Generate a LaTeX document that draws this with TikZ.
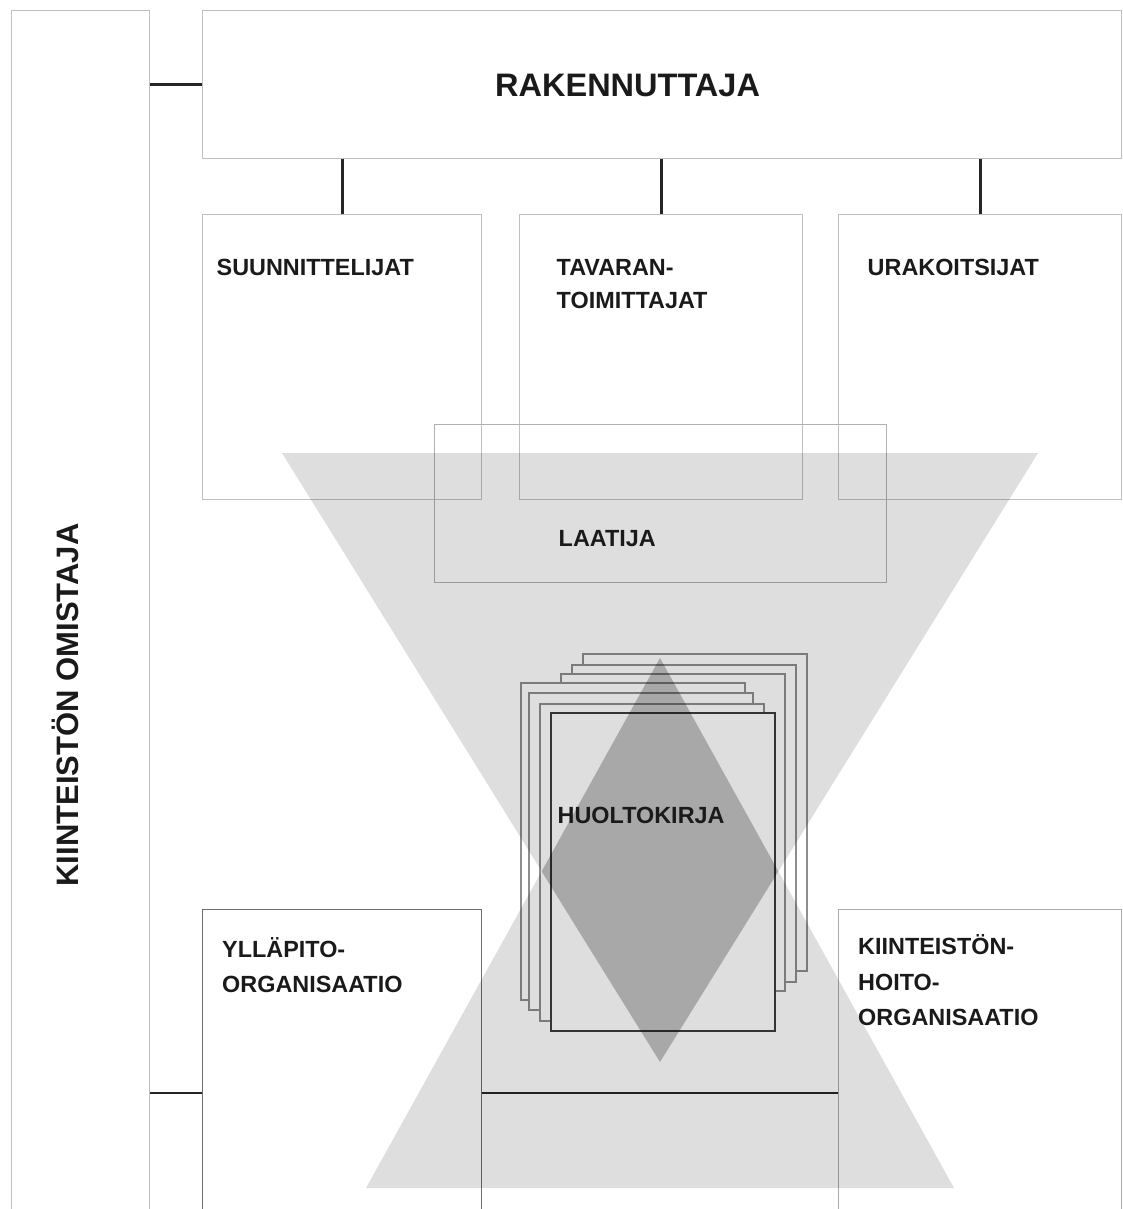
\documentclass[tikz,border=0pt]{standalone}
\usepackage{fontspec}
\setmainfont{Liberation Sans}
\definecolor{boxgray}{HTML}{C0C0C0}
\definecolor{yllgray}{HTML}{6E6E6E}
\definecolor{kiigray}{HTML}{ABABAB}
\definecolor{pagegray}{HTML}{8E8E8E}
\definecolor{frontgray}{HTML}{3C3C3C}
\definecolor{conncol}{HTML}{262626}
\definecolor{txt}{HTML}{1A1A1A}
\begin{document}
\begin{tikzpicture}[x=1pt,y=-1pt,
  lbox/.style={draw=boxgray, line width=1.35pt, inner sep=0pt, anchor=north west},
  conn/.style={draw=conncol, line width=2.8pt},
  lab/.style={font=\bfseries\fontsize{23.4}{28}\selectfont, text=txt, inner sep=0pt, anchor=base west},
  biglab/.style={font=\bfseries\fontsize{32.5}{38}\selectfont, text=txt, inner sep=0pt},
  pagebox/.style={draw=pagegray, fill=white, line width=1.5pt, inner sep=0pt, anchor=north west, minimum width=224pt, minimum height=317pt},
  shade/.style={fill=black, fill opacity=0.13}
]
\useasboundingbox (0,0) rectangle (1122,1209);
\begin{scope}
\clip (0,0) rectangle (1122,1209);
% boxes
\node[lbox, minimum width=138pt, minimum height=1230pt] (own) at (11,10) {};
\node[lbox, minimum width=919pt, minimum height=148pt] (rak) at (202,10) {};
\node[lbox, minimum width=279pt, minimum height=285pt] (suun) at (202,214) {};
\node[lbox, minimum width=283pt, minimum height=285pt] (tav) at (519,214) {};
\node[lbox, minimum width=283pt, minimum height=285pt] (urak) at (838,214) {};
\node[lbox, draw=boxgray!92!black, minimum width=452pt, minimum height=158pt] (laat) at (434,424) {};
\node[lbox, draw=yllgray, minimum width=279pt, minimum height=330pt] (yll) at (202,909) {};
\node[lbox, draw=kiigray, minimum width=283pt, minimum height=330pt] (kii) at (838,909) {};
% pages
\node[pagebox] (p1) at (582,653) {};
\node[pagebox] (p2) at (571,664) {};
\node[pagebox] (p3) at (560,673) {};
\node[pagebox] (p4) at (520,682) {};
\node[pagebox] (p5) at (528,692) {};
\node[pagebox] (p6) at (539,703) {};
\node[pagebox, draw=frontgray, line width=1.8pt, minimum height=318pt] (p7) at (550,712) {};
% connectors
\coordinate (jy) at (0,1093);
\draw[conn] (own.east |- rak.west) -- (rak.west);
\draw[conn] (suun.north) -- (suun.north |- rak.south);
\draw[conn] (tav.north) -- (tav.north |- rak.south);
\draw[conn] (urak.north) -- (urak.north |- rak.south);
\draw[conn] (own.east |- jy) -- (yll.west |- jy);
\draw[conn] (yll.east |- jy) -- (kii.west |- jy);
% hourglass
\fill[shade] (282,453) -- (1038,453) -- (660,1062) -- cycle;
\fill[shade] (366,1188) -- (954,1188) -- (660,658) -- cycle;
\begin{scope}
\clip (282,453) -- (1038,453) -- (660,1062) -- cycle;
\fill[shade] (366,1188) -- (954,1188) -- (660,658) -- cycle;
\end{scope}
% labels
\node[biglab, anchor=base west] (raklab) at (495,97) {RAKENNUTTAJA};
\node[biglab, font=\bfseries\fontsize{31}{36}\selectfont, rotate=90, anchor=base] (ownlab) at (78,705) {KIINTEISTÖN OMISTAJA};
\node[lab] (suunlab) at (216.5,275.5) {SUUNNITTELIJAT};
\node[lab] (tavlab1) at (556.5,275.5) {TAVARAN-};
\node[lab] (tavlab2) at (556.5,308.5) {TOIMITTAJAT};
\node[lab] (uraklab) at (867.5,275.5) {URAKOITSIJAT};
\node[lab] (laatlab) at (558.5,546.5) {LAATIJA};
\node[lab] (huollab) at (557.5,823.5) {HUOLTOKIRJA};
\node[lab] (yllab1) at (222,957.5) {YLLÄPITO-};
\node[lab] (yllab2) at (222,992.5) {ORGANISAATIO};
\node[lab] (kiilab1) at (858,954.5) {KIINTEISTÖN-};
\node[lab] (kiilab2) at (858,990) {HOITO-};
\node[lab] (kiilab3) at (858,1025.5) {ORGANISAATIO};
\end{scope}
\end{tikzpicture}
\end{document}
